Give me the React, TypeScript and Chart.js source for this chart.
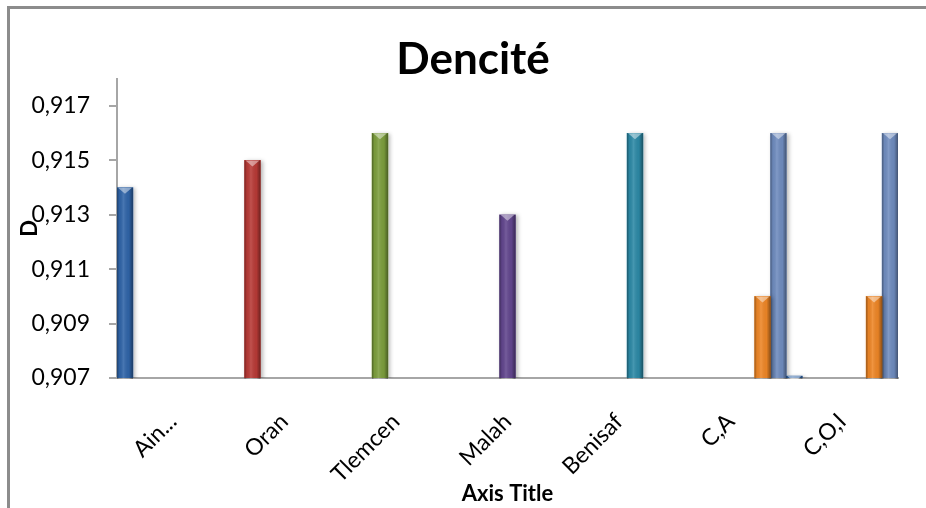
import React, { useEffect, useRef } from 'react';
import { Chart, registerables } from 'chart.js';

Chart.register(...registerables);

// Sites measured
const categories = ['Ain...', 'Oran', 'Tlemcen', 'Malah', 'Benisaf', 'C,A', 'C,O,I'];

// One series per site; each holds its value in its own slot
const ainValues = [0.914, null, null, null, null, null, 0.90707];
const oranValues = [null, 0.915, null, null, null, null, null];
const tlemcenValues = [null, null, 0.916, null, null, null, null];
const malahValues = [null, null, null, 0.913, null, null, null];
const benisafValues = [null, null, null, null, 0.916, null, null];
const orangeValues = [null, null, null, null, null, 0.91, 0.91];
const steelValues = [null, null, null, null, null, 0.916, 0.916];

const seriesColors = ['#2f64a8', '#b83a36', '#7c9e3c', '#62468e', '#2c89a6', '#ee8626', '#6f8cbf'];

// Y axis labels
const yTickValues = [0.907, 0.909, 0.911, 0.913, 0.915, 0.917];
const yMin = 0.907;
const yMax = 0.918;

const FONT = 'Lato, "Open Sans", sans-serif';

// Office-style bevel: darker edges, light chevron on top, soft drop shadow
const bevelPlugin = {
  id: 'bevel',
  beforeDatasetsDraw(chart: any) {
    const ctx = chart.ctx;
    ctx.save();
    ctx.shadowColor = 'rgba(0,0,0,0.28)';
    ctx.shadowBlur = 4;
    ctx.shadowOffsetX = 2;
    ctx.shadowOffsetY = 1;
  },
  afterDatasetsDraw(chart: any) {
    const ctx = chart.ctx;
    ctx.restore();
    const area = chart.chartArea;
    ctx.save();
    ctx.beginPath();
    ctx.rect(area.left, area.top, area.right - area.left, area.bottom - area.top + 1);
    ctx.clip();
    chart.data.datasets.forEach((ds: any, i: number) => {
      const meta = chart.getDatasetMeta(i);
      meta.data.forEach((bar: any, j: number) => {
        if (ds.data[j] == null) return;
        const { x, y, base, width } = bar.getProps(['x', 'y', 'base', 'width'], true);
        const left = x - width / 2;
        const right = x + width / 2;
        const top = Math.min(y, base);
        const bottom = Math.max(y, base);
        const h = bottom - top;
        if (h <= 0) return;
        const g = ctx.createLinearGradient(left, 0, right, 0);
        g.addColorStop(0, 'rgba(0,0,0,0.35)');
        g.addColorStop(0.15, 'rgba(0,0,0,0.04)');
        g.addColorStop(0.4, 'rgba(255,255,255,0.12)');
        g.addColorStop(0.75, 'rgba(0,0,0,0.04)');
        g.addColorStop(1, 'rgba(0,0,0,0.4)');
        ctx.fillStyle = g;
        ctx.fillRect(left, top, width, h);
        const cap = Math.min(6, h / 2);
        ctx.fillStyle = 'rgba(255,255,255,0.45)';
        ctx.beginPath();
        ctx.moveTo(left + 1, top);
        ctx.lineTo(right - 1, top);
        ctx.lineTo(x, top + cap);
        ctx.closePath();
        ctx.fill();
        ctx.fillStyle = 'rgba(0,0,0,0.18)';
        ctx.beginPath();
        ctx.moveTo(left + 1, bottom);
        ctx.lineTo(right - 1, bottom);
        ctx.lineTo(x, bottom - cap);
        ctx.closePath();
        ctx.fill();
      });
    });
    ctx.restore();
  },
};

// Grey frame along the top and left of the chart
const framePlugin = {
  id: 'frame',
  afterDraw(chart: any) {
    const ctx = chart.ctx;
    ctx.save();
    ctx.strokeStyle = '#8c8c8c';
    ctx.lineWidth = 3;
    ctx.beginPath();
    ctx.moveTo(1.5, chart.height);
    ctx.lineTo(1.5, 1.5);
    ctx.lineTo(chart.width, 1.5);
    ctx.stroke();
    ctx.restore();
  },
};

export default function App() {
  const canvasRef = useRef<HTMLCanvasElement>(null);

  useEffect(() => {
    document.body.style.margin = '0';
    const series = [ainValues, oranValues, tlemcenValues, malahValues, benisafValues, orangeValues, steelValues];
    const chart = new Chart(canvasRef.current as HTMLCanvasElement, {
      type: 'bar',
      data: {
        labels: categories,
        datasets: series.map((values, i) => ({
          label: categories[Math.min(i, categories.length - 1)],
          data: values,
          backgroundColor: seriesColors[i],
          borderWidth: 0,
          categoryPercentage: 1,
          barPercentage: 1,
          yAxisID: 'y',
        })),
      },
      options: {
        responsive: false,
        animation: false,
        devicePixelRatio: 1,
        layout: { padding: 0 },
        plugins: {
          legend: { display: false },
          tooltip: { enabled: false },
          title: {
            display: true,
            text: 'Dencité',
            color: '#000',
            font: { family: FONT, size: 44, weight: 'bold', lineHeight: 0.86 },
            padding: { top: 35, bottom: 0 },
          },
        },
        scales: {
          x: {
            grid: { display: false },
            border: { display: true, color: '#a6a6a6', width: 2 },
            ticks: {
              color: '#000',
              font: { family: FONT, size: 23 },
              minRotation: 45,
              maxRotation: 45,
              autoSkip: false,
              padding: 22,
            },
            title: {
              display: true,
              text: 'Axis Title',
              color: '#000',
              font: { family: FONT, size: 22, weight: 'bold' },
              padding: { top: 0, bottom: 1 },
            },
            afterFit: (scale: any) => {
              scale.height = 130;
            },
          },
          y: {
            min: yMin,
            max: yMax,
            afterBuildTicks: (scale: any) => {
              scale.ticks = yTickValues.map((v) => ({ value: v }));
            },
            grid: { drawOnChartArea: false, color: '#a6a6a6', tickLength: 8, lineWidth: 2 },
            border: { display: true, color: '#a6a6a6', width: 2 },
            ticks: {
              color: '#000',
              padding: 19,
              font: { family: FONT, size: 23 },
              callback: (v: any) => Number(v).toFixed(3).replace('.', ','),
            },
            title: {
              display: true,
              text: 'D',
              color: '#000',
              font: { family: FONT, size: 22, weight: 'bold' },
              padding: { top: 10, bottom: 4 },
            },
            afterFit: (scale: any) => {
              scale.width = 110;
            },
          },
          // empty margin on the right of the plot
          yRight: {
            position: 'right',
            display: true,
            min: yMin,
            max: yMax,
            grid: { display: false },
            border: { display: false },
            ticks: { display: false },
            afterFit: (scale: any) => {
              scale.width = 41;
            },
          },
        },
      },
      plugins: [bevelPlugin, framePlugin],
    } as any);
    return () => chart.destroy();
  }, []);

  return (
    <div style={{ position: 'relative', width: 926, height: 508, overflow: 'hidden', background: '#fff' }}>
      <div style={{ position: 'absolute', left: 7, top: 6 }}>
        <canvas ref={canvasRef} width={932} height={502} style={{ display: 'block' }} />
      </div>
    </div>
  );
}
